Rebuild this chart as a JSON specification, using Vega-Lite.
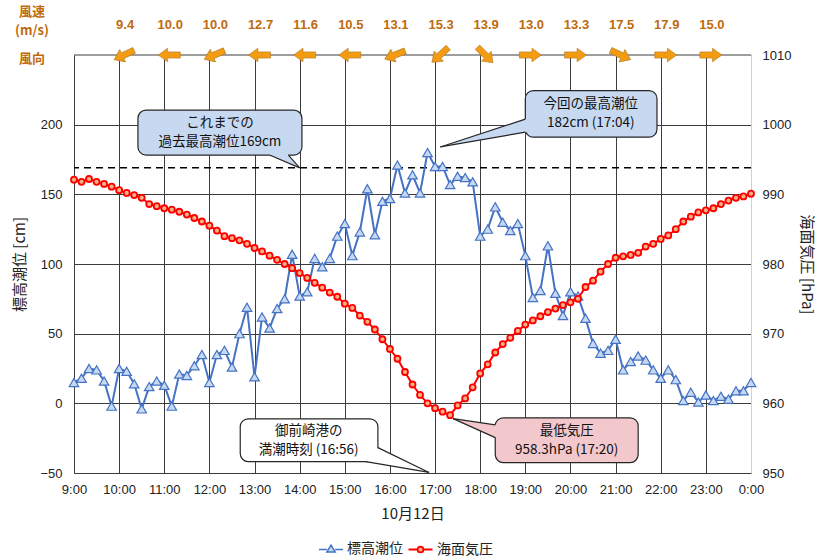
{
  "$schema": "https://vega.github.io/schema/vega-lite/v6.json",
  "width": 677,
  "height": 418,
  "padding": {"left": 12, "top": 6, "right": 4, "bottom": 0},
  "background": "white",
  "config": {"view": {"stroke": null}, "font": "Liberation Sans"},
  "layer": [
    {
      "layer": [
        {
          "data": {"values": [{"level": 169}]},
          "mark": {"type": "rule", "stroke": "#000000", "strokeWidth": 1.5, "strokeDash": [7, 5]},
          "encoding": {
            "y": {
              "field": "level", "type": "quantitative",
              "scale": {"domain": [-50, 250], "nice": false, "zero": false},
              "axis": {
                "title": "標高潮位 [cm]", "values": [-50, 0, 50, 100, 150, 200],
                "grid": true, "gridColor": "#3c3c3c", "gridWidth": 1, "domain": false, "ticks": false,
                "labelPadding": 12, "labelFontSize": 13, "labelColor": "#222222", "labelFont": "Liberation Sans",
                "titleFont": "Noto Sans CJK JP", "titleFontSize": 15, "titleFontWeight": "normal", "titleColor": "#222222", "titlePadding": 12
              }
            }
          }
        },
        {
          "data": {"values": [{"level": 250}]},
          "mark": {"type": "rule", "stroke": "#3c3c3c", "strokeWidth": 1},
          "encoding": {"y": {"field": "level", "type": "quantitative"}}
        },
        {
          "data": {"values": [
            {"time":"2019-10-12T09:00","level":15},{"time":"2019-10-12T09:10","level":18},{"time":"2019-10-12T09:20","level":25},{"time":"2019-10-12T09:30","level":24},{"time":"2019-10-12T09:40","level":16},{"time":"2019-10-12T09:50","level":-2},
            {"time":"2019-10-12T10:00","level":25},{"time":"2019-10-12T10:10","level":23},{"time":"2019-10-12T10:20","level":14},{"time":"2019-10-12T10:30","level":-4},{"time":"2019-10-12T10:40","level":12},{"time":"2019-10-12T10:50","level":16},
            {"time":"2019-10-12T11:00","level":13},{"time":"2019-10-12T11:10","level":-2},{"time":"2019-10-12T11:20","level":21},{"time":"2019-10-12T11:30","level":20},{"time":"2019-10-12T11:40","level":27},{"time":"2019-10-12T11:50","level":35},
            {"time":"2019-10-12T12:00","level":15},{"time":"2019-10-12T12:10","level":35},{"time":"2019-10-12T12:20","level":38},{"time":"2019-10-12T12:30","level":26},{"time":"2019-10-12T12:40","level":50},{"time":"2019-10-12T12:50","level":69},
            {"time":"2019-10-12T13:00","level":19},{"time":"2019-10-12T13:10","level":62},{"time":"2019-10-12T13:20","level":54},{"time":"2019-10-12T13:30","level":68},{"time":"2019-10-12T13:40","level":75},{"time":"2019-10-12T13:50","level":107},
            {"time":"2019-10-12T14:00","level":77},{"time":"2019-10-12T14:10","level":80},{"time":"2019-10-12T14:20","level":104},{"time":"2019-10-12T14:30","level":98},{"time":"2019-10-12T14:40","level":104},{"time":"2019-10-12T14:50","level":120},
            {"time":"2019-10-12T15:00","level":129},{"time":"2019-10-12T15:10","level":106},{"time":"2019-10-12T15:20","level":123},{"time":"2019-10-12T15:30","level":154},{"time":"2019-10-12T15:40","level":121},{"time":"2019-10-12T15:50","level":145},
            {"time":"2019-10-12T16:00","level":147},{"time":"2019-10-12T16:10","level":171},{"time":"2019-10-12T16:20","level":151},{"time":"2019-10-12T16:30","level":164},{"time":"2019-10-12T16:40","level":151},{"time":"2019-10-12T16:50","level":180},
            {"time":"2019-10-12T17:00","level":170},{"time":"2019-10-12T17:10","level":170},{"time":"2019-10-12T17:20","level":157},{"time":"2019-10-12T17:30","level":163},{"time":"2019-10-12T17:40","level":162},{"time":"2019-10-12T17:50","level":159},
            {"time":"2019-10-12T18:00","level":120},{"time":"2019-10-12T18:10","level":125},{"time":"2019-10-12T18:20","level":141},{"time":"2019-10-12T18:30","level":130},{"time":"2019-10-12T18:40","level":124},{"time":"2019-10-12T18:50","level":129},
            {"time":"2019-10-12T19:00","level":106},{"time":"2019-10-12T19:10","level":76},{"time":"2019-10-12T19:20","level":81},{"time":"2019-10-12T19:30","level":113},{"time":"2019-10-12T19:40","level":79},{"time":"2019-10-12T19:50","level":63},
            {"time":"2019-10-12T20:00","level":80},{"time":"2019-10-12T20:10","level":77},{"time":"2019-10-12T20:20","level":61},{"time":"2019-10-12T20:30","level":43},{"time":"2019-10-12T20:40","level":36},{"time":"2019-10-12T20:50","level":38},
            {"time":"2019-10-12T21:00","level":46},{"time":"2019-10-12T21:10","level":24},{"time":"2019-10-12T21:20","level":30},{"time":"2019-10-12T21:30","level":34},{"time":"2019-10-12T21:40","level":31},{"time":"2019-10-12T21:50","level":24},
            {"time":"2019-10-12T22:00","level":18},{"time":"2019-10-12T22:10","level":24},{"time":"2019-10-12T22:20","level":17},{"time":"2019-10-12T22:30","level":2},{"time":"2019-10-12T22:40","level":8},{"time":"2019-10-12T22:50","level":1},
            {"time":"2019-10-12T23:00","level":6},{"time":"2019-10-12T23:10","level":2},{"time":"2019-10-12T23:20","level":5},{"time":"2019-10-12T23:30","level":3},{"time":"2019-10-12T23:40","level":9},{"time":"2019-10-12T23:50","level":9},
            {"time":"2019-10-13T00:00","level":15}
          ]},
          "layer": [
            {
              "mark": {"type": "line", "strokeWidth": 2},
              "encoding": {
                "x": {
                  "field": "time", "type": "temporal",
                  "scale": {"domain": [{"year": 2019, "month": 10, "date": 12, "hours": 9}, {"year": 2019, "month": 10, "date": 13, "hours": 0}], "nice": false},
                  "axis": {
                    "title": "10月12日", "format": "%-H:%M",
                    "values": [
                      {"year": 2019, "month": 10, "date": 12, "hours": 9}, {"year": 2019, "month": 10, "date": 12, "hours": 10}, {"year": 2019, "month": 10, "date": 12, "hours": 11},
                      {"year": 2019, "month": 10, "date": 12, "hours": 12}, {"year": 2019, "month": 10, "date": 12, "hours": 13}, {"year": 2019, "month": 10, "date": 12, "hours": 14},
                      {"year": 2019, "month": 10, "date": 12, "hours": 15}, {"year": 2019, "month": 10, "date": 12, "hours": 16}, {"year": 2019, "month": 10, "date": 12, "hours": 17},
                      {"year": 2019, "month": 10, "date": 12, "hours": 18}, {"year": 2019, "month": 10, "date": 12, "hours": 19}, {"year": 2019, "month": 10, "date": 12, "hours": 20},
                      {"year": 2019, "month": 10, "date": 12, "hours": 21}, {"year": 2019, "month": 10, "date": 12, "hours": 22}, {"year": 2019, "month": 10, "date": 12, "hours": 23},
                      {"year": 2019, "month": 10, "date": 13, "hours": 0}
                    ],
                    "grid": true, "gridColor": "#3c3c3c", "gridWidth": 1,
                    "domain": true, "domainColor": "#3c3c3c", "ticks": false, "labelPadding": 10,
                    "labelFontSize": 13, "labelColor": "#222222", "labelFont": "Liberation Sans", "labelFlush": false,
                    "titleFont": "Noto Sans CJK JP", "titleFontSize": 15, "titleFontWeight": "normal", "titleColor": "#222222", "titlePadding": 10
                  }
                },
                "y": {"field": "level", "type": "quantitative"},
                "color": {
                  "datum": "標高潮位",
                  "scale": {"domain": ["標高潮位"], "range": ["#4472C4"]},
                  "legend": {"orient": "none", "legendX": 247, "legendY": 484, "title": null, "labelFont": "Noto Sans CJK JP", "labelFontSize": 14, "labelColor": "#222222", "labelOffset": 6, "symbolType": "M-1.3,0.05H-0.45M0.45,0.05H1.3M0,-0.42L0.45,0.32L-0.45,0.32Z", "symbolSize": 340, "symbolStrokeWidth": 1.5, "symbolFillColor": "#C6D9F1"}
                }
              }
            },
            {
              "mark": {"type": "point", "shape": "triangle-up", "filled": true, "fill": "#C6D9F1", "stroke": "#4472C4", "strokeWidth": 1.2, "size": 90, "opacity": 1},
              "encoding": {
                "x": {"field": "time", "type": "temporal"},
                "y": {"field": "level", "type": "quantitative"}
              }
            }
          ]
        },
        {
          "data": {"values": [
            {"time":"2019-10-12T10:00","speed":9.4,"dir":155},
            {"time":"2019-10-12T11:00","speed":10.0,"dir":180},
            {"time":"2019-10-12T12:00","speed":10.0,"dir":157},
            {"time":"2019-10-12T13:00","speed":12.7,"dir":180},
            {"time":"2019-10-12T14:00","speed":11.6,"dir":180},
            {"time":"2019-10-12T15:00","speed":10.5,"dir":180},
            {"time":"2019-10-12T16:00","speed":13.1,"dir":158},
            {"time":"2019-10-12T17:00","speed":15.3,"dir":138},
            {"time":"2019-10-12T18:00","speed":13.9,"dir":45},
            {"time":"2019-10-12T19:00","speed":13.0,"dir":0},
            {"time":"2019-10-12T20:00","speed":13.3,"dir":0},
            {"time":"2019-10-12T21:00","speed":17.5,"dir":25},
            {"time":"2019-10-12T22:00","speed":17.9,"dir":0},
            {"time":"2019-10-12T23:00","speed":15.0,"dir":0}
          ]},
          "layer": [
            {
              "mark": {"type": "text", "font": "Liberation Sans", "fontSize": 13, "fontWeight": "bold", "color": "#BF6A0D", "dy": -30, "dx": 6, "align": "center", "baseline": "middle"},
              "encoding": {
                "x": {"field": "time", "type": "temporal"},
                "y": {"datum": 250},
                "text": {"field": "speed", "type": "quantitative", "format": ".1f"}
              }
            },
            {
              "mark": {"type": "point", "shape": "M-1,-0.28L0.15,-0.28L0.15,-0.62L1,0L0.15,0.62L0.15,0.28L-1,0.28Z", "filled": true, "fill": "#F39C12", "stroke": "#B07424", "strokeWidth": 0.6, "size": 484, "opacity": 1, "xOffset": 5},
              "encoding": {
                "x": {"field": "time", "type": "temporal"},
                "y": {"datum": 250},
                "angle": {"field": "dir", "type": "quantitative", "scale": null}
              }
            }
          ]
        },
        {
          "data": {"values": [{"time": "2019-10-12T09:00", "level": 250, "lab": "風速\n(m/s)"}]},
          "mark": {"type": "text", "font": "Noto Sans CJK JP", "fontSize": 13, "fontWeight": "bold", "color": "#BF6A0D", "lineBreak": "\n", "lineHeight": 19, "dx": -42, "dy": -43, "align": "center", "baseline": "middle"},
          "encoding": {
            "x": {"field": "time", "type": "temporal"},
            "y": {"field": "level", "type": "quantitative"},
            "text": {"field": "lab"}
          }
        },
        {
          "data": {"values": [{"time": "2019-10-12T09:00", "level": 250, "lab": "風向"}]},
          "mark": {"type": "text", "font": "Noto Sans CJK JP", "fontSize": 13, "fontWeight": "bold", "color": "#BF6A0D", "dx": -42, "dy": 4, "align": "center", "baseline": "middle"},
          "encoding": {
            "x": {"field": "time", "type": "temporal"},
            "y": {"field": "level", "type": "quantitative"},
            "text": {"field": "lab"}
          }
        },
        {
          "data": {"values": [
            {"box":"past","t1":"2019-10-12T10:25","t2":"2019-10-12T14:03","v1":178.2,"v2":210.4},
            {"box":"now","t1":"2019-10-12T19:00","t2":"2019-10-12T21:55","v1":191,"v2":224.5},
            {"box":"high","t1":"2019-10-12T12:41","t2":"2019-10-12T15:44","v1":-41.8,"v2":-11.1},
            {"box":"pmin","t1":"2019-10-12T18:20","t2":"2019-10-12T21:30","v1":-42.5,"v2":-10.4}
          ]},
          "mark": {"type": "rect", "cornerRadius": 8, "stroke": "#262626", "strokeWidth": 1.2},
          "encoding": {
            "x": {"field": "t1", "type": "temporal"},
            "x2": {"field": "t2"},
            "y": {"field": "v1", "type": "quantitative"},
            "y2": {"field": "v2"},
            "fill": {"condition": [{"test": "datum.box === 'high'", "value": "#FFFFFF"}, {"test": "datum.box === 'pmin'", "value": "#F3C8CD"}], "value": "#C6D9F1"}
          }
        },
        {
          "data": {"values": [
            {"box":"past","time":"2019-10-12T13:20","top":180,"bot":178.2},
            {"box":"past","time":"2019-10-12T13:44","top":180,"bot":172.7},
            {"box":"past","time":"2019-10-12T13:45","top":178.2,"bot":172.45},
            {"box":"past","time":"2019-10-12T14:00","top":169,"bot":169},
            {"box":"now","time":"2019-10-12T17:07","top":184,"bot":184},
            {"box":"now","time":"2019-10-12T19:00","top":204,"bot":194.6},
            {"box":"now","time":"2019-10-12T19:03","top":204,"bot":194.6},
            {"box":"high","time":"2019-10-12T15:28","top":-41.8,"bot":-41.8},
            {"box":"high","time":"2019-10-12T15:44","top":-31.8,"bot":-43.3},
            {"box":"high","time":"2019-10-12T16:52","top":-49.6,"bot":-49.6},
            {"box":"pmin","time":"2019-10-12T17:24","top":-11,"bot":-11},
            {"box":"pmin","time":"2019-10-12T18:20","top":-15.4,"bot":-24.6},
            {"box":"pmin","time":"2019-10-12T18:23","top":-15.4,"bot":-24.6}
          ]},
          "mark": {"type": "area", "strokeWidth": 0, "opacity": 1},
          "encoding": {
            "x": {"field": "time", "type": "temporal"},
            "y": {"field": "top", "type": "quantitative"},
            "y2": {"field": "bot"},
            "detail": {"field": "box", "type": "nominal"},
            "fill": {"condition": [{"test": "datum.box === 'high'", "value": "#FFFFFF"}, {"test": "datum.box === 'pmin'", "value": "#F3C8CD"}], "value": "#C6D9F1"}
          }
        },
        {
          "data": {"values": [
            {"t1":"2019-10-12T13:20","v1":178.2,"t2":"2019-10-12T14:00","v2":169},
            {"t1":"2019-10-12T13:45","v1":178.2,"t2":"2019-10-12T14:00","v2":169},
            {"t1":"2019-10-12T19:00","v1":204,"t2":"2019-10-12T17:07","v2":184},
            {"t1":"2019-10-12T19:00","v1":194.6,"t2":"2019-10-12T17:07","v2":184},
            {"t1":"2019-10-12T15:28","v1":-41.8,"t2":"2019-10-12T16:52","v2":-49.6},
            {"t1":"2019-10-12T15:44","v1":-31.8,"t2":"2019-10-12T16:52","v2":-49.6},
            {"t1":"2019-10-12T18:20","v1":-15.4,"t2":"2019-10-12T17:24","v2":-11},
            {"t1":"2019-10-12T18:20","v1":-24.6,"t2":"2019-10-12T17:24","v2":-11}
          ]},
          "mark": {"type": "rule", "stroke": "#262626", "strokeWidth": 1.2},
          "encoding": {
            "x": {"field": "t1", "type": "temporal"},
            "x2": {"field": "t2"},
            "y": {"field": "v1", "type": "quantitative"},
            "y2": {"field": "v2"}
          }
        },
        {
          "data": {"values": [
            {"tc":"2019-10-12T12:14","vc":194.3,"label":"これまでの\n過去最高潮位169cm"},
            {"tc":"2019-10-12T20:27","vc":207.7,"label":"今回の最高潮位\n182cm (17:04)"},
            {"tc":"2019-10-12T14:12","vc":-26.5,"label":"御前崎港の\n満潮時刻 (16:56)"},
            {"tc":"2019-10-12T19:55","vc":-26.5,"label":"最低気圧\n958.3hPa (17:20)"}
          ]},
          "mark": {"type": "text", "font": "Noto Sans CJK JP", "fontSize": 13.5, "color": "#111111", "lineBreak": "\n", "lineHeight": 19, "dy": -9.5, "align": "center", "baseline": "middle"},
          "encoding": {
            "x": {"field": "tc", "type": "temporal"},
            "y": {"field": "vc", "type": "quantitative"},
            "text": {"field": "label"}
          }
        }
      ]
    },
    {
      "data": {"values": [
        {"time":"2019-10-12T09:00","hPa":992.1},{"time":"2019-10-12T09:10","hPa":991.8},{"time":"2019-10-12T09:20","hPa":992.2},{"time":"2019-10-12T09:30","hPa":991.8},{"time":"2019-10-12T09:40","hPa":991.5},{"time":"2019-10-12T09:50","hPa":991.1},
        {"time":"2019-10-12T10:00","hPa":990.6},{"time":"2019-10-12T10:10","hPa":990.2},{"time":"2019-10-12T10:20","hPa":989.9},{"time":"2019-10-12T10:30","hPa":989.5},{"time":"2019-10-12T10:40","hPa":988.6},{"time":"2019-10-12T10:50","hPa":988.3},
        {"time":"2019-10-12T11:00","hPa":988.0},{"time":"2019-10-12T11:10","hPa":987.8},{"time":"2019-10-12T11:20","hPa":987.5},{"time":"2019-10-12T11:30","hPa":987.1},{"time":"2019-10-12T11:40","hPa":986.6},{"time":"2019-10-12T11:50","hPa":986.1},
        {"time":"2019-10-12T12:00","hPa":985.5},{"time":"2019-10-12T12:10","hPa":984.8},{"time":"2019-10-12T12:20","hPa":984.0},{"time":"2019-10-12T12:30","hPa":983.7},{"time":"2019-10-12T12:40","hPa":983.4},{"time":"2019-10-12T12:50","hPa":982.9},
        {"time":"2019-10-12T13:00","hPa":982.3},{"time":"2019-10-12T13:10","hPa":981.8},{"time":"2019-10-12T13:20","hPa":981.2},{"time":"2019-10-12T13:30","hPa":980.6},{"time":"2019-10-12T13:40","hPa":980.0},{"time":"2019-10-12T13:50","hPa":979.4},
        {"time":"2019-10-12T14:00","hPa":978.7},{"time":"2019-10-12T14:10","hPa":978.0},{"time":"2019-10-12T14:20","hPa":977.3},{"time":"2019-10-12T14:30","hPa":976.6},{"time":"2019-10-12T14:40","hPa":975.9},{"time":"2019-10-12T14:50","hPa":975.3},
        {"time":"2019-10-12T15:00","hPa":974.3},{"time":"2019-10-12T15:10","hPa":973.7},{"time":"2019-10-12T15:20","hPa":972.6},{"time":"2019-10-12T15:30","hPa":971.7},{"time":"2019-10-12T15:40","hPa":970.6},{"time":"2019-10-12T15:50","hPa":969.2},
        {"time":"2019-10-12T16:00","hPa":967.8},{"time":"2019-10-12T16:10","hPa":966.4},{"time":"2019-10-12T16:20","hPa":964.5},{"time":"2019-10-12T16:30","hPa":962.7},{"time":"2019-10-12T16:40","hPa":961.2},{"time":"2019-10-12T16:50","hPa":960.0},
        {"time":"2019-10-12T17:00","hPa":959.3},{"time":"2019-10-12T17:10","hPa":958.8},{"time":"2019-10-12T17:20","hPa":958.3},{"time":"2019-10-12T17:30","hPa":959.7},{"time":"2019-10-12T17:40","hPa":960.7},{"time":"2019-10-12T17:50","hPa":962.3},
        {"time":"2019-10-12T18:00","hPa":964.3},{"time":"2019-10-12T18:10","hPa":965.6},{"time":"2019-10-12T18:20","hPa":967.3},{"time":"2019-10-12T18:30","hPa":968.5},{"time":"2019-10-12T18:40","hPa":969.4},{"time":"2019-10-12T18:50","hPa":970.4},
        {"time":"2019-10-12T19:00","hPa":971.3},{"time":"2019-10-12T19:10","hPa":971.9},{"time":"2019-10-12T19:20","hPa":972.5},{"time":"2019-10-12T19:30","hPa":973.1},{"time":"2019-10-12T19:40","hPa":973.6},{"time":"2019-10-12T19:50","hPa":974.1},
        {"time":"2019-10-12T20:00","hPa":974.5},{"time":"2019-10-12T20:10","hPa":975.0},{"time":"2019-10-12T20:20","hPa":976.7},{"time":"2019-10-12T20:30","hPa":977.6},{"time":"2019-10-12T20:40","hPa":978.9},{"time":"2019-10-12T20:50","hPa":980.0},
        {"time":"2019-10-12T21:00","hPa":980.9},{"time":"2019-10-12T21:10","hPa":981.1},{"time":"2019-10-12T21:20","hPa":981.3},{"time":"2019-10-12T21:30","hPa":981.6},{"time":"2019-10-12T21:40","hPa":982.5},{"time":"2019-10-12T21:50","hPa":982.9},
        {"time":"2019-10-12T22:00","hPa":983.6},{"time":"2019-10-12T22:10","hPa":984.1},{"time":"2019-10-12T22:20","hPa":985.0},{"time":"2019-10-12T22:30","hPa":986.1},{"time":"2019-10-12T22:40","hPa":986.8},{"time":"2019-10-12T22:50","hPa":987.4},
        {"time":"2019-10-12T23:00","hPa":987.7},{"time":"2019-10-12T23:10","hPa":988.0},{"time":"2019-10-12T23:20","hPa":988.6},{"time":"2019-10-12T23:30","hPa":989.1},{"time":"2019-10-12T23:40","hPa":989.5},{"time":"2019-10-12T23:50","hPa":989.7},
        {"time":"2019-10-13T00:00","hPa":990.1}
      ]},
      "layer": [
        {
          "mark": {"type": "line", "strokeWidth": 2},
          "encoding": {
            "x": {"field": "time", "type": "temporal"},
            "y": {
              "field": "hPa", "type": "quantitative",
              "scale": {"domain": [950, 1010], "nice": false, "zero": false},
              "axis": {
                "orient": "right", "title": "海面気圧 [hPa]", "values": [950, 960, 970, 980, 990, 1000, 1010], "format": "d",
                "grid": false, "domain": true, "domainColor": "#d0d0d0", "ticks": false,
                "labelPadding": 11, "labelFontSize": 13, "labelColor": "#222222", "labelFont": "Liberation Sans",
                "titleFont": "Noto Sans CJK JP", "titleFontSize": 15, "titleFontWeight": "normal", "titleColor": "#222222", "titlePadding": 8
              }
            },
            "color": {
              "datum": "海面気圧",
              "scale": {"domain": ["海面気圧"], "range": ["#FF0000"]},
              "legend": {"orient": "none", "legendX": 336, "legendY": 484, "title": null, "labelFont": "Noto Sans CJK JP", "labelFontSize": 14, "labelColor": "#222222", "labelOffset": 6, "symbolType": "M-1.3,0H-0.32M0.32,0H1.3M0.32,0A0.32,0.32,0,1,1,-0.32,0A0.32,0.32,0,1,1,0.32,0Z", "symbolSize": 340, "symbolStrokeWidth": 1.8, "symbolFillColor": "#F4B183"}
            }
          }
        },
        {
          "mark": {"type": "point", "shape": "circle", "filled": true, "fill": "#F4B183", "stroke": "#FF0000", "strokeWidth": 1.8, "size": 36, "opacity": 1},
          "encoding": {
            "x": {"field": "time", "type": "temporal"},
            "y": {"field": "hPa", "type": "quantitative"}
          }
        }
      ]
    }
  ],
  "resolve": {"scale": {"y": "independent", "color": "independent"}}
}
